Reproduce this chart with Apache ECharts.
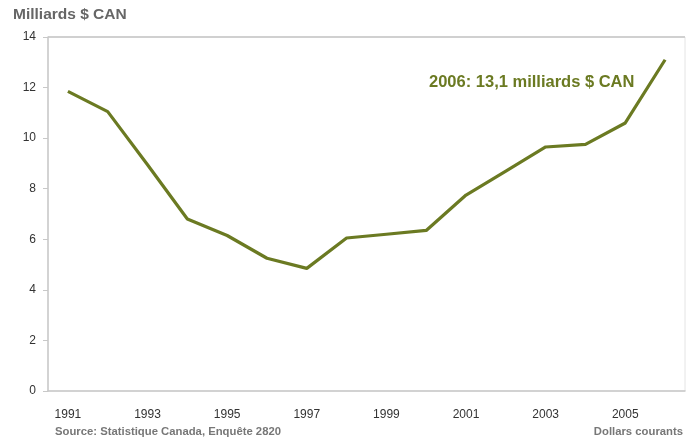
<!DOCTYPE html>
<html>
<head>
<meta charset="utf-8">
<script src="https://cdn.jsdelivr.net/npm/echarts@6/dist/echarts.min.js"></script>
<style>
  html, body { margin: 0; padding: 0; background: #fff; }
  #chart { width: 691px; height: 438px; }
</style>
</head>
<body>
<div id="chart"></div>
<script>
const years = ['1991', '1992', '1993', '1994', '1995', '1996', '1997', '1998',
  '1999', '2000', '2001', '2002', '2003', '2004', '2005', '2006']
// milliards $ CAN, dollars courants
const values = [11.85, 11.05, 8.95, 6.8, 6.15, 5.25, 4.85, 6.05,
  6.2, 6.35, 7.75, 8.7, 9.65, 9.75, 10.6, 13.1]
const yTicks = [0, 2, 4, 6, 8, 10, 12, 14]

const olive = '#6b7a22'

const chart = echarts.init(document.getElementById('chart'))

chart.setOption({
  backgroundColor: '#fff',
  animation: false,
  textStyle: { fontFamily: 'Liberation Sans, Arial, sans-serif' },
  title: [
    {
      text: 'Milliards $ CAN',
      left: 13, top: 7, padding: 0,
      textStyle: { fontSize: 15.5, fontWeight: 'bold', color: '#666' },
    },
    {
      text: '2006: 13,1 milliards $ CAN',
      left: 429, top: 74, padding: 0,
      textStyle: { fontSize: 16.5, fontWeight: 'bold', color: olive },
    },
    {
      text: 'Source: Statistique Canada, Enquête 2820',
      left: 55, top: 426, padding: 0,
      textStyle: { fontSize: 11.3, fontWeight: 'bold', color: '#777' },
    },
    {
      text: 'Dollars courants',
      right: 8, top: 426, padding: 0,
      textStyle: { fontSize: 11.3, fontWeight: 'bold', color: '#777' },
    },
  ],
  grid: {
    left: 48, right: 6, top: 37, bottom: 47,
    show: true, borderColor: '#e4e4e4', borderWidth: 1,
  },
  xAxis: {
    type: 'category',
    data: years,
    boundaryGap: true,
    axisLine: { lineStyle: { color: '#c8c8c8', width: 1.5 } },
    axisTick: { interval: 0, length: 6, lineStyle: { color: '#c8c8c8' } },
    axisLabel: {
      interval: 1, margin: 18, fontSize: 12, color: '#333',
    },
  },
  yAxis: {
    type: 'value',
    min: yTicks[0],
    max: yTicks[yTicks.length - 1],
    interval: 2,
    axisLine: { show: true, lineStyle: { color: '#c8c8c8', width: 1.5 } },
    axisTick: { show: true, length: 5, lineStyle: { color: '#c8c8c8' } },
    axisLabel: { margin: 12, fontSize: 12, color: '#333' },
    splitLine: {
      show: true,
      lineStyle: { color: ['none', 'none', 'none', 'none', 'none', 'none', 'none', '#d0d0d0'], width: 2 },
    },
  },
  series: [{
    type: 'line',
    data: values,
    symbol: 'none',
    lineStyle: { color: olive, width: 3.2 },
    itemStyle: { color: olive },
  }],
})
</script>
</body>
</html>
